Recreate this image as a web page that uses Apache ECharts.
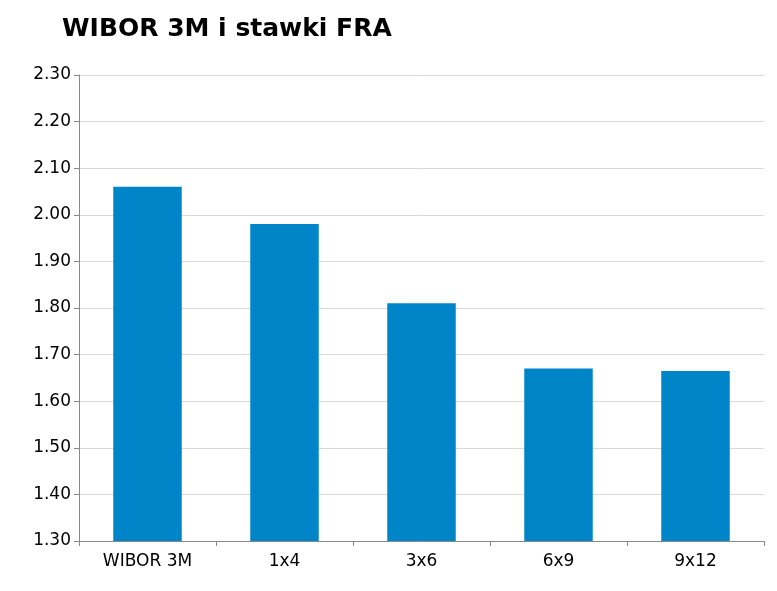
<!DOCTYPE html><html><head><meta charset="utf-8">
<script src="https://cdn.jsdelivr.net/npm/echarts@6/dist/echarts.min.js"></script>
<style>html,body{margin:0;padding:0;background:#fff}#c{width:777px;height:591px}</style></head><body>
<div id="c"></div>
<script>
const categories=['WIBOR 3M','1x4','3x6','6x9','9x12'];
const values=[2.06,1.98,1.81,1.67,1.665];
const chart=echarts.init(document.getElementById('c'));
chart.setOption({
  animation:false,
  title:{text:'WIBOR 3M i stawki FRA',left:57,top:12,textStyle:{fontFamily:'DejaVu Sans',fontWeight:'bold',fontSize:25,color:'#000'}},
  grid:{left:79,right:13,top:75,bottom:50},
  xAxis:{type:'category',data:categories,axisLine:{lineStyle:{color:'#888'}},axisTick:{show:true,alignWithLabel:false,lineStyle:{color:'#888'}},
    axisLabel:{fontFamily:'DejaVu Sans',fontSize:17,color:'#000',margin:12}},
  yAxis:{type:'value',min:1.3,max:2.3,interval:0.1,axisLine:{show:true,lineStyle:{color:'#888'}},axisTick:{show:true,lineStyle:{color:'#888'}},
    splitLine:{lineStyle:{color:'#d9d9d9'}},
    axisLabel:{fontFamily:'DejaVu Sans',fontSize:17,color:'#000',formatter:v=>v.toFixed(2)}},
  series:[{type:'bar',data:values,barWidth:'50%',itemStyle:{color:'#0086C8'}}]
});
</script></body></html>
